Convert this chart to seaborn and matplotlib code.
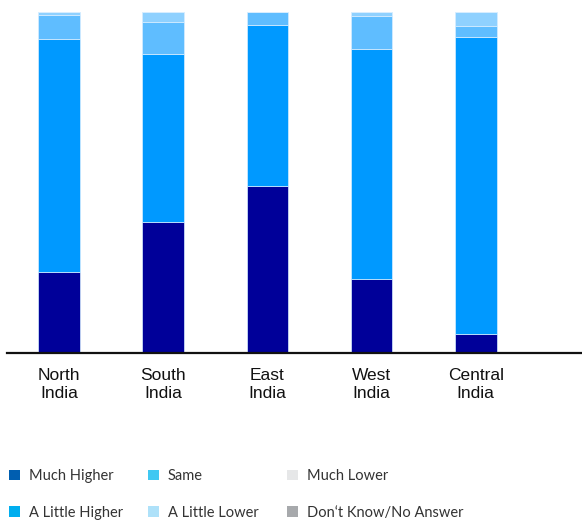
import matplotlib
matplotlib.use("Agg")
import matplotlib.pyplot as plt
from matplotlib.patches import Patch
import numpy as np
import pandas as pd
import seaborn as sns

regions = ["North\nIndia", "South\nIndia", "East\nIndia", "West\nIndia", "Central\nIndia"]
categories = ["Much Higher", "A Little Higher", "Same", "A Little Lower",
              "Much Lower", "Don\u2018t Know/No Answer"]

much_higher = [23.9, 38.4, 49.1, 21.7, 5.5]
little_higher = [68.1, 49.2, 47.0, 67.4, 87.3]
same = [7.0, 9.6, 3.9, 9.8, 3.2]
little_lower = [1.0, 2.8, 0.0, 1.1, 4.0]
much_lower = [0.0, 0.0, 0.0, 0.0, 0.0]
dont_know = [0.0, 0.0, 0.0, 0.0, 0.0]

bar_colors = ["#000099", "#0099FF", "#5FBDFF", "#8FD1FF", "#E6E7E8", "#A7A9AC"]
legend_colors = ["#005EB0", "#00AEEF", "#40C8F2", "#AEE1F9", "#E6E7E8", "#A7A9AC"]

series = [much_higher, little_higher, same, little_lower, much_lower, dont_know]
df = pd.DataFrame({"region": np.repeat(regions, len(categories)),
                   "category": categories * len(regions),
                   "value": np.array(series).T.ravel()})

sns.set_theme(style="white")
plt.rcParams["font.family"] = ["Liberation Sans", "DejaVu Sans"]

fig = plt.figure(figsize=(5.82, 5.21), dpi=100)
ax = fig.add_axes([7 / 582, 1 - 353 / 521, 1 - 7 / 582, (353 - 12) / 521])

bottom = np.zeros(len(regions))
for cat, color in zip(categories, bar_colors):
    sub = df[df["category"] == cat]
    vals = sub["value"].to_numpy()
    sns.barplot(data=sub, x="region", y="value", order=regions, color=color,
                width=0.40, bottom=bottom, edgecolor="#D8EEFF", linewidth=0.5,
                saturation=1, ax=ax, errorbar=None)
    bottom = bottom + vals

ax.set_xlim(-0.5, 5.02)
ax.set_ylim(0, 100)
ax.set_xlabel("")
ax.set_ylabel("")
ax.set_yticks([])
for s in ["left", "right", "top"]:
    ax.spines[s].set_visible(False)
ax.spines["bottom"].set_color("#111111")
ax.spines["bottom"].set_linewidth(1.6)
ax.tick_params(axis="x", length=0, pad=11, labelsize=12.5, colors="#111111")
for lab in ax.get_xticklabels():
    lab.set_linespacing(1.2)

# legend laid out as three fixed-width columns of two entries each
col_x = [9, 148, 287]
for i, x0 in enumerate(col_x):
    idx = [2 * i, 2 * i + 1]
    handles = [Patch(facecolor=legend_colors[k], edgecolor="none") for k in idx]
    labels = [categories[k] for k in idx]
    leg = fig.legend(handles, labels, loc="upper left",
                     bbox_to_anchor=(x0 / 582, 1 - 469 / 521), frameon=False,
                     borderpad=0, borderaxespad=0,
                     handlelength=0.75, handleheight=0.75, handletextpad=0.6,
                     labelspacing=1.55,
                     prop={"family": "Lato", "size": 10.5})
    for t in leg.get_texts():
        t.set_color("#333333")

fig.savefig("out.png", dpi=100)
